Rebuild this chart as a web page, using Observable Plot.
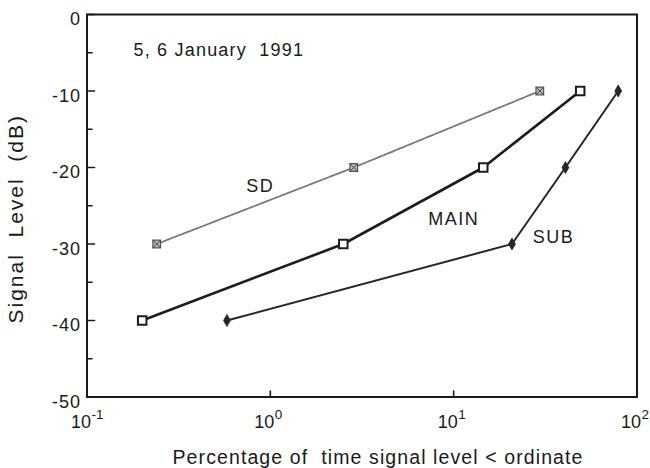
<!DOCTYPE html>
<html>
<head>
<meta charset="utf-8">
<script src="https://cdn.jsdelivr.net/npm/d3@7"></script>
<script src="https://cdn.jsdelivr.net/npm/@observablehq/plot@0.6"></script>
<style>
  html, body { margin: 0; padding: 0; background: #fff; }
  svg text { white-space: pre; }
  .ls1 text { letter-spacing: 1px; }
  .ls11 text { letter-spacing: 1.1px; }
  .ls12 text { letter-spacing: 1.2px; }
  .ls15 text { letter-spacing: 1.5px; }
  .ls2 text { letter-spacing: 2px; }
</style>
</head>
<body>
<div id="chart"></div>
<script>
// ---- data ----
const seriesNames = ["SD", "MAIN", "SUB"];
const sdPct = [0.24, 2.85, 29.5];
const sdLevel = [-30, -20, -10];
const mainPct = [0.2, 2.5, 14.5, 49];
const mainLevel = [-40, -30, -20, -10];
const subPct = [0.58, 20.8, 40.7, 79];
const subLevel = [-40, -30, -20, -10];

const yTicks = [-50, -40, -30, -20, -10, 0];
const yMinorTicks = [-45, -35, -25, -15, -5];
const xTicks = [0.1, 1, 10, 100];
const xTickBase = "10";
const xTickExponents = ["-1", "0", "1", "2"];

const seriesLabelX = [0.88, 10, 35];
const seriesLabelY = [-22.5, -26.7, -29.1];

const dateText = "5, 6 January  1991";
const xTitle = "Percentage of  time signal level < ordinate";
const yTitle = "Signal  Level  (dB)";

// ---- tables built from the arrays ----
const toRows = (xs, ys) => xs.map((x, i) => ({pct: x, level: ys[i]}));
const sd = toRows(sdPct, sdLevel);
const main = toRows(mainPct, mainLevel);
const sub = toRows(subPct, subLevel);

const ink = "#1a1a1a";

// a plain straight tick for the vector mark
const tickShape = {draw(context, l) { context.moveTo(0, 0); context.lineTo(0, -l); }};

const chart = Plot.plot({
  width: 650,
  height: 468,
  marginLeft: 86.5,
  marginRight: 13.5,
  marginTop: 14,
  marginBottom: 71.5,
  x: {type: "log", domain: [0.1, 100], axis: null},
  y: {domain: [-50, 0], axis: null},
  style: {fontFamily: "'Liberation Sans', Arial, sans-serif", color: ink, background: "#fff"},
  marks: [
    // inward ticks
    Plot.vector(yTicks, {frameAnchor: "left", y: d => d, length: 7.5, rotate: 90, anchor: "start",
      shape: tickShape, stroke: ink, strokeWidth: 1.6}),
    Plot.vector(yMinorTicks, {frameAnchor: "left", y: d => d, length: 5, rotate: 90, anchor: "start",
      shape: tickShape, stroke: ink, strokeWidth: 1.6}),
    Plot.vector(xTicks, {frameAnchor: "bottom", x: d => d, length: 6, rotate: 0, anchor: "start",
      shape: tickShape, stroke: ink, strokeWidth: 1.6}),
    Plot.frame({stroke: ink, strokeWidth: 2}),

    // y tick labels
    Plot.text(yTicks, {frameAnchor: "left", y: d => d, text: d => String(d), textAnchor: "end",
      dx: -6, dy: 5, fontSize: 18, fill: ink, className: "ls1"}),
    // x tick labels 10^n
    Plot.text(xTicks, {x: d => d, frameAnchor: "bottom", text: () => xTickBase, textAnchor: "end",
      lineAnchor: "bottom", dx: 4, dy: 30.5, fontSize: 18, fill: ink}),
    Plot.text(xTicks, {x: d => d, frameAnchor: "bottom", text: (d, i) => xTickExponents[i], textAnchor: "start",
      lineAnchor: "bottom", dx: 4.5, dy: 21.5, fontSize: 13.5, fill: ink}),

    // lines
    Plot.line(sd, {x: "pct", y: "level", stroke: "#7a7a7a", strokeWidth: 1.8, strokeDasharray: "2.5,1"}),
    Plot.line(main, {x: "pct", y: "level", stroke: "#1c1c1c", strokeWidth: 2.6}),
    Plot.line(sub, {x: "pct", y: "level", stroke: "#262626", strokeWidth: 2}),

    // markers
    Plot.dot(sd, {x: "pct", y: "level", symbol: "square", r: 4.3, stroke: "#555", fill: "#bbb", strokeWidth: 1.2}),
    Plot.dot(sd, {x: "pct", y: "level", symbol: "times", r: 3.6, stroke: "#444", strokeWidth: 1}),
    Plot.dot(main, {x: "pct", y: "level", symbol: "square", r: 4.8, stroke: "#1c1c1c", fill: "#fff", strokeWidth: 2}),
    Plot.dot(sub, {x: "pct", y: "level", symbol: "diamond", r: 3.6, fill: "#262626", stroke: "#262626", strokeWidth: 0.8}),

    // series labels
    Plot.text(seriesNames, {x: (d, i) => seriesLabelX[i], y: (d, i) => seriesLabelY[i], text: d => d,
      fontSize: 18, fill: ink, className: "ls15"}),

    // date annotation
    Plot.text([dateText], {frameAnchor: "top-left", text: d => d, textAnchor: "start", lineAnchor: "bottom",
      dx: 46.5, dy: 41, fontSize: 18, fill: ink, className: "ls12"}),

    // axis titles
    Plot.text([xTitle], {frameAnchor: "bottom", text: d => d, textAnchor: "middle", lineAnchor: "bottom",
      dx: 16, dy: 66.5, fontSize: 19.5, fill: ink, className: "ls11"}),
    Plot.text([yTitle], {frameAnchor: "left", text: d => d, rotate: -90, textAnchor: "middle", lineAnchor: "middle",
      dx: -70.5, dy: 13, fontSize: 21, fill: ink, className: "ls2"})
  ]
});

document.getElementById("chart").appendChild(chart);
</script>
</body>
</html>
